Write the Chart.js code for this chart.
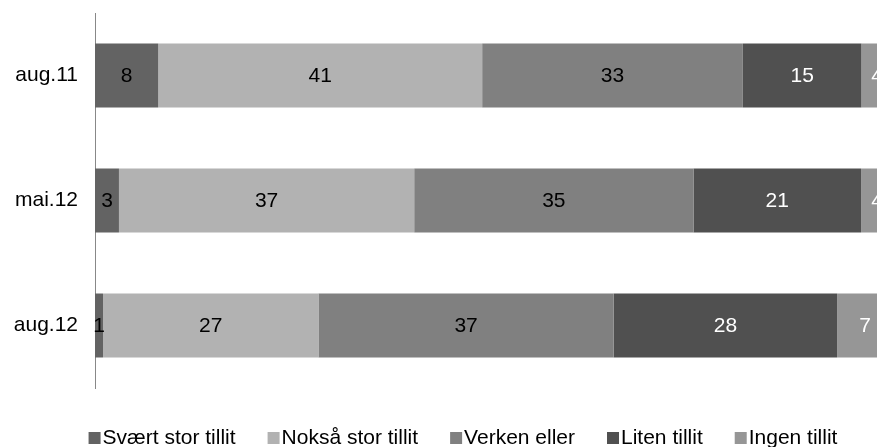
<!DOCTYPE html>
<html>
<head>
<meta charset="utf-8">
<script src="https://cdn.jsdelivr.net/npm/chart.js@4"></script>
<style>
  html, body { margin: 0; padding: 0; background: #fff; overflow: hidden; }
  #wrap { width: 877px; height: 447px; overflow: hidden; position: relative; }
  #box { width: 926px; height: 447px; }
</style>
</head>
<body>
<div id="wrap"><div id="box"><canvas id="myChart"></canvas></div></div>
<script>
var categories = ['aug.11', 'mai.12', 'aug.12'];
var seriesNames = ['Svært stor tillit', 'Nokså stor tillit', 'Verken eller', 'Liten tillit', 'Ingen tillit'];
var svaertStor = [8, 3, 1];
var noksaStor = [41, 37, 27];
var verkenEller = [33, 35, 37];
var litenTillit = [15, 21, 28];
var ingenTillit = [4, 4, 7];
var seriesColors = ['#636363', '#b2b2b2', '#808080', '#505050', '#969696'];
var labelColors = ['#000000', '#000000', '#000000', '#ffffff', '#ffffff'];

var allSeries = [svaertStor, noksaStor, verkenEller, litenTillit, ingenTillit];
var FONT = '"Liberation Sans", Arial, sans-serif';
var FS = 21;

// 100% stacked: each category scaled to its own total
var totals = categories.map(function(c, i) {
    return allSeries.reduce(function(s, arr) { return s + arr[i]; }, 0);
});

var datasets = allSeries.map(function(arr, k) {
    return {
        label: seriesNames[k],
        raw: arr,
        data: arr.map(function(v, i) { return v / totals[i] * 100; }),
        backgroundColor: seriesColors[k],
        borderWidth: 0,
        categoryPercentage: 1,
        barPercentage: 0.512
    };
});

var valueLabels = {
    id: 'valueLabels',
    afterDatasetsDraw: function(chart) {
        var ctx = chart.ctx;
        ctx.save();
        ctx.font = FS + 'px ' + FONT;
        ctx.textAlign = 'center';
        ctx.textBaseline = 'middle';
        chart.data.datasets.forEach(function(ds, k) {
            chart.getDatasetMeta(k).data.forEach(function(bar, i) {
                var cx = (bar.x + bar.base) / 2;
                ctx.fillStyle = labelColors[k];
                ctx.fillText(String(ds.raw[i]), cx, bar.y + 1);
            });
        });
        ctx.restore();
    }
};

var bottomLegend = {
    id: 'bottomLegend',
    afterDraw: function(chart) {
        var ctx = chart.ctx;
        ctx.save();
        ctx.font = FS + 'px ' + FONT;
        ctx.textBaseline = 'middle';
        var box = 12, gap = 2, spacing = 32;
        var widths = seriesNames.map(function(n) { return box + gap + ctx.measureText(n).width; });
        var total = widths.reduce(function(a, b) { return a + b; }, 0) + spacing * (widths.length - 1);
        var x = 463 - total / 2;
        var y = 437;
        seriesNames.forEach(function(n, k) {
            ctx.fillStyle = seriesColors[k];
            ctx.fillRect(x, y - 5, box, box);
            ctx.fillStyle = '#000';
            ctx.fillText(n, x + box + gap, y + 1);
            x += widths[k] + spacing;
        });
        ctx.restore();
    }
};

const ctx = document.getElementById('myChart').getContext('2d');
const myChart = new Chart(ctx, {
    type: 'bar',
    data: {
        labels: categories,
        datasets: datasets
    },
    options: {
        indexAxis: 'y',
        responsive: true,
        maintainAspectRatio: false,
        animation: false,
        layout: { padding: { top: 13, bottom: 59, left: 0, right: 33 } },
        plugins: {
            legend: { display: false },
            tooltip: { enabled: false }
        },
        scales: {
            x: {
                display: false,
                stacked: true,
                min: 0,
                max: 100
            },
            y: {
                stacked: true,
                grid: { display: false, drawTicks: false },
                border: { display: true, color: '#888888', width: 1 },
                ticks: {
                    color: '#000',
                    padding: 17,
                    font: { size: FS, family: FONT }
                },
                afterFit: function(scale) {
                    scale.width = 95;
                    scale.paddingTop = 0;
                    scale.paddingBottom = 0;
                }
            }
        }
    },
    plugins: [valueLabels, bottomLegend]
});
</script>
</body>
</html>
